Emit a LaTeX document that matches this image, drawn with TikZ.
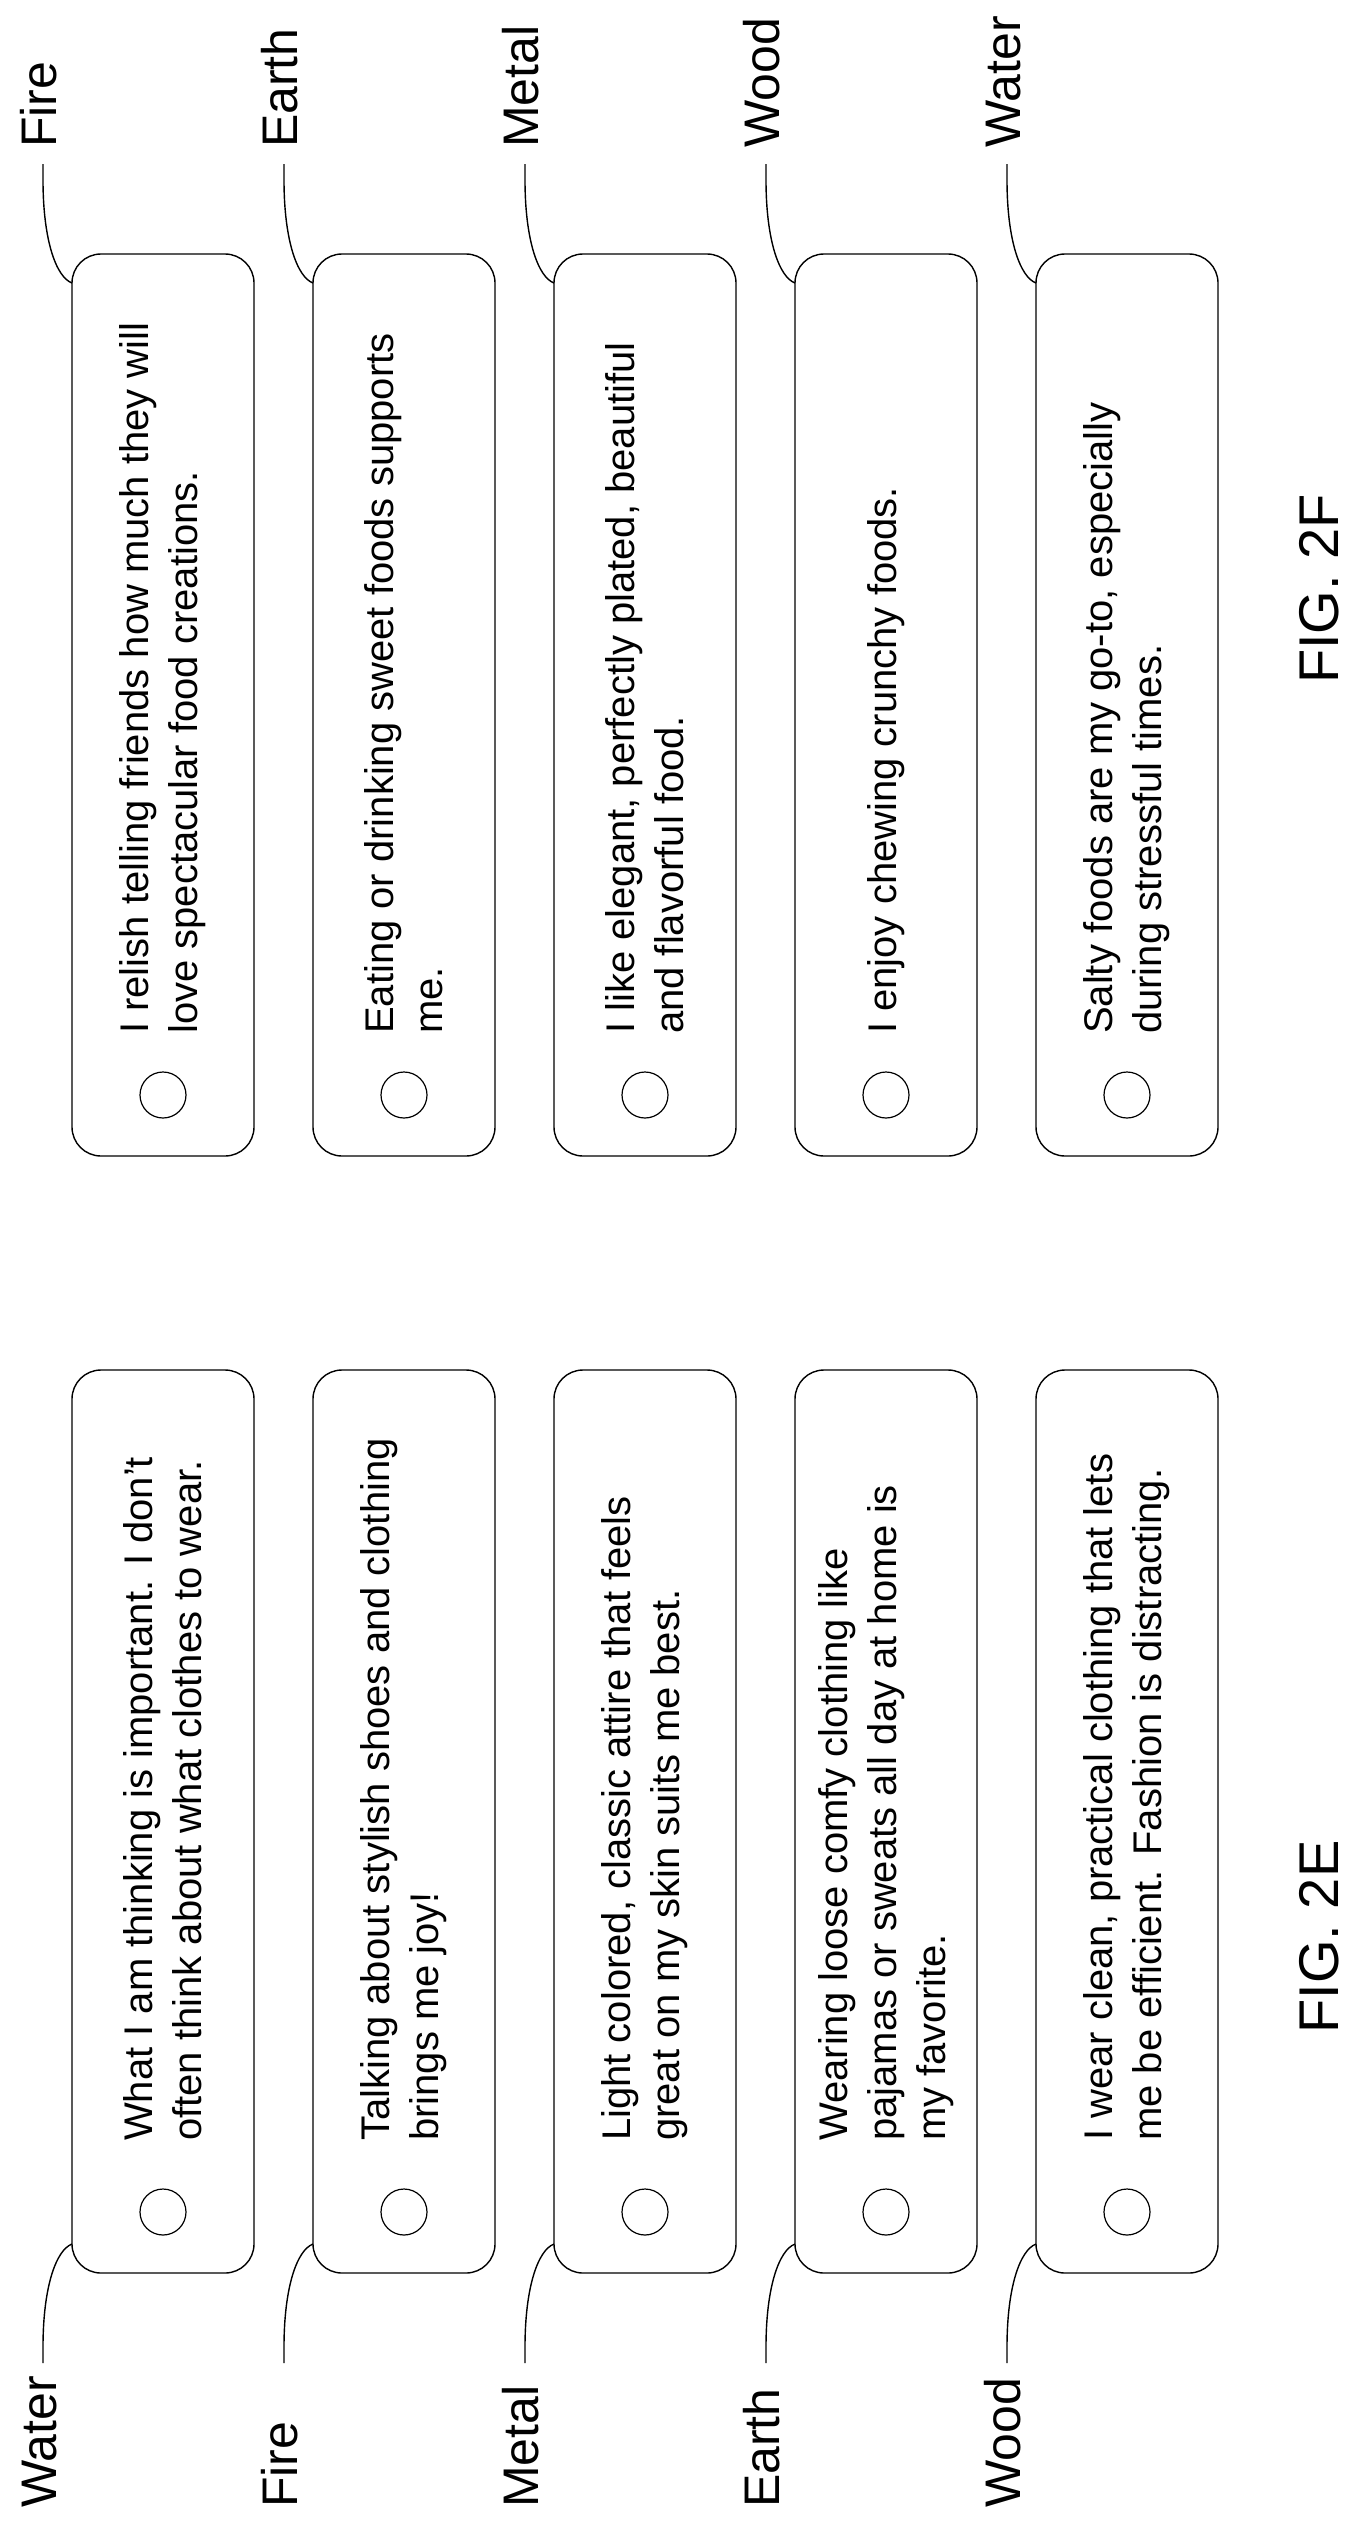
\documentclass[tikz,border=0pt]{standalone}
\usepackage{fontspec}
\setmainfont{Liberation Sans}
\begin{document}
\begin{tikzpicture}[x=1pt,y=-1pt,
  optbox/.style={draw,line width=1.4pt,rounded corners=29pt},
  radio/.style={draw,line width=1.2pt,circle,minimum size=46pt,inner sep=0pt},
  opttext/.style={rotate=90,anchor=west,align=left,inner sep=0pt,font=\fontsize{40}{49}\selectfont},
  elem/.style={rotate=90,anchor=base west,inner sep=0pt,font=\fontsize{50}{60}\selectfont},
  figlabel/.style={rotate=90,inner sep=0pt,font=\fontsize{56}{66}\selectfont},
  leader/.style={line width=1.4pt}]
\fill[white] (0,0) rectangle (1360,2529);
\useasboundingbox (0,0) rectangle (1360,2529);
% FIG. 2F (top group)
\foreach \k/\lab/\txt in {
 0/Fire/{I relish telling friends how much they will\\love spectacular food creations.},
 1/Earth/{Eating or drinking sweet foods supports\\me.},
 2/Metal/{I like elegant, perfectly plated, beautiful\\and flavorful food.},
 3/Wood/{I enjoy chewing crunchy foods.},
 4/Water/{Salty foods are my go-to, especially\\during stressful times.}}{
  \pgfmathsetmacro{\xl}{72+241*\k}
  \draw[optbox] (\xl,254) rectangle ++(182,902);
  \node[radio] (fc\k) at (\xl+91,1095) {};
  \node[opttext] (ft\k) at (\xl+91,1034) {\txt};
  \node[elem] (fl\k) at (\xl-16,148) {\lab};
  \coordinate (fa\k) at (\xl-29,164);
  \coordinate (fb\k) at (\xl,283);
  \draw[leader] (fa\k) -- ++(0,16) .. controls ++(0,60) and ++(-16,-6) .. (fb\k);
}
% FIG. 2E (bottom group)
\foreach \k/\lab/\txt in {
 0/Water/{What I am thinking is important. I don't\\often think about what clothes to wear.},
 1/Fire/{Talking about stylish shoes and clothing\\brings me joy!},
 2/Metal/{Light colored, classic attire that feels\\great on my skin suits me best.},
 3/Earth/{Wearing loose comfy clothing like\\pajamas or sweats all day at home is\\my favorite.},
 4/Wood/{I wear clean, practical clothing that lets\\me be efficient. Fashion is distracting.}}{
  \pgfmathsetmacro{\xl}{72+241*\k}
  \draw[optbox] (\xl,1370) rectangle ++(182,903);
  \node[radio] (ec\k) at (\xl+91,2212) {};
  \node[opttext] (et\k) at (\xl+91,2141) {\txt};
  \node[elem] (el\k) at (\xl-16,2508) {\lab};
  \coordinate (ea\k) at (\xl-29,2363);
  \coordinate (eb\k) at (\xl,2244);
  \draw[leader] (ea\k) -- ++(0,-16) .. controls ++(0,-60) and ++(-16,6) .. (eb\k);
}
\node[figlabel] (f2f) at (1319,589) {FIG. 2F};
\node[figlabel] (f2e) at (1319,1937) {FIG. 2E};
\end{tikzpicture}
\end{document}
